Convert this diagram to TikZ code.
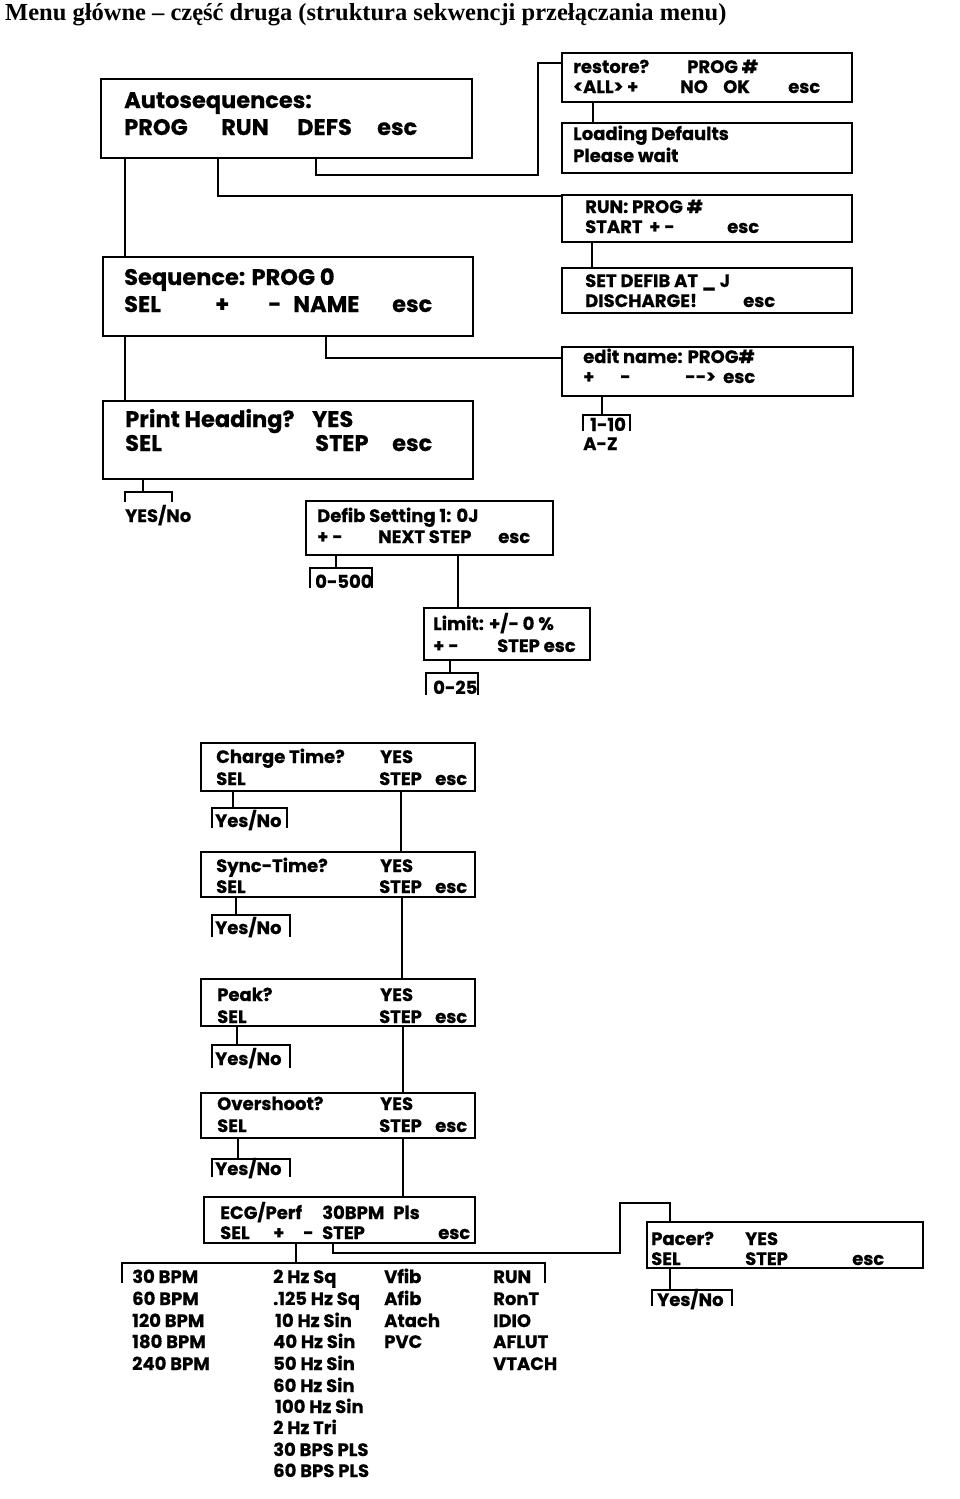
\documentclass[tikz,border=0pt]{standalone}
\usepackage{fontspec}
\setmainfont{Liberation Serif}
\newfontfamily\dfont{Poppins}[BoldFeatures={FakeBold=0.6}]
\tikzset{
 box/.style={draw, line width=2pt, inner sep=0pt, outer sep=0pt, anchor=north west},
 ln/.style={line width=1.8pt},
 big/.style={font=\dfont\bfseries\fontsize{22.5}{22.5}\selectfont, anchor=base west, inner sep=0pt},
 sm/.style={font=\dfont\bfseries\fontsize{18}{18}\selectfont, anchor=base west, inner sep=0pt},
}
\newcounter{tn}
\newcommand\W[2]{\makebox[#1pt][l]{#2}}
\newcommand\R[3][sm]{\stepcounter{tn}\node[#1] (t\thetn) at (#2) {#3};}
\newcommand\Bx[5]{\node[box, minimum width=#4pt, minimum height=#5pt] (#1) at (#2,#3) {};}
\newcommand\Br[6]{\coordinate (#1) at (#6,#4); \draw[ln] (#2,#5) |- (#3,#4) -- (#3,#5);}
\begin{document}
\begin{tikzpicture}[x=1pt,y=-1pt]
\useasboundingbox (0,0) rectangle (960,1499);
\node[font=\bfseries\fontsize{24.5}{24.5}\selectfont, anchor=base west, inner sep=0pt] (title) at (5,20) {Menu główne – część druga (struktura sekwencji przełączania menu)};

% boxes
\Bx{auto}{101}{79}{371}{79}
\Bx{restore}{562}{53}{290}{49}
\Bx{load}{562}{123}{290}{50}
\Bx{run}{562}{195}{290}{47}
\Bx{defat}{562}{268}{290}{45}
\Bx{seq}{103}{257}{370}{79}
\Bx{edit}{562}{347}{291}{49}
\Bx{print}{103}{401}{370}{78}
\Bx{defib}{306}{501}{247}{54}
\Bx{limit}{424}{608}{166}{52}
\Bx{charge}{201}{743}{274}{48}
\Bx{sync}{201}{852}{274}{45}
\Bx{peak}{201}{979}{274}{47}
\Bx{over}{201}{1093}{274}{45}
\Bx{ecg}{204}{1197}{271}{46}
\Bx{pacer}{647}{1222}{276}{46}

% texts
\R[big]{124,108}{Autosequences:}
\R[big]{124,135}{\W{97}{PROG}\W{76}{RUN}\W{80}{DEFS}esc}
\R{573,73}{\W{114}{restore?}PROG \#}
\R{573,93}{\W{107}{<ALL> +}\W{43}{NO}\W{65}{OK}esc}
\R{573,140}{Loading Defaults}
\R{573,162}{Please wait}
\R{585,213}{RUN: PROG \#}
\R{585,233}{\W{64}{START}\W{78}{+ -}esc}
\R{585,287}{SET DEFIB AT \_ J}
\R{585,307}{\W{158}{DISCHARGE!}esc}
\R[big]{124,285}{Sequence: PROG 0}
\R[big]{124,312}{\W{91}{SEL}\W{53}{+}\W{25}{-}\W{99}{NAME}esc}
\R{583,363}{edit name: PROG\#}
\R{583,383}{\W{37}{+}\W{65}{-}\W{38}{-{}-{}>}esc}
\R{590,431}{1-10}
\R{583,450}{A-Z}
\R[big]{125,427}{\W{187}{Print Heading?}YES}
\R[big]{125,451}{\W{190}{SEL}\W{77}{STEP}esc}
\R{125,522}{YES/No}
\R{317,522}{Defib Setting 1: 0J}
\R{317,543}{\W{61}{+ -}\W{120}{NEXT STEP}esc}
\R{315,588}{0-500}
\R{433,630}{Limit: +/- 0 \%}
\R{433,652}{\W{64}{+ -}STEP esc}
\R{433,694}{0-25}
\R{216,763}{\W{164}{Charge Time?}YES}
\R{216,785}{\W{163}{SEL}\W{56}{STEP}esc}
\R{215,827}{Yes/No}
\R{216,872}{\W{164}{Sync-Time?}YES}
\R{216,893}{\W{163}{SEL}\W{56}{STEP}esc}
\R{215,934}{Yes/No}
\R{217,1001}{\W{163}{Peak?}YES}
\R{217,1023}{\W{162}{SEL}\W{56}{STEP}esc}
\R{215,1065}{Yes/No}
\R{217,1110}{\W{163}{Overshoot?}YES}
\R{217,1132}{\W{162}{SEL}\W{56}{STEP}esc}
\R{215,1175}{Yes/No}
\R{220,1219}{\W{102}{ECG/Perf}\W{71}{30BPM}Pls}
\R{220,1239}{\W{53}{SEL}\W{30}{+}\W{19}{-}\W{116}{STEP}esc}
\R{651,1245}{\W{94}{Pacer?}YES}
\R{651,1265}{\W{94}{SEL}\W{107}{STEP}esc}
\R{657,1306}{Yes/No}
% lists
\R{132,1283}{30 BPM}
\R{132,1305}{60 BPM}
\R{132,1327}{120 BPM}
\R{132,1348}{180 BPM}
\R{132,1370}{240 BPM}
\R{273,1283}{2 Hz Sq}
\R{273,1305}{.125 Hz Sq}
\R{275,1327}{10 Hz Sin}
\R{273,1348}{40 Hz Sin}
\R{273,1370}{50 Hz Sin}
\R{273,1392}{60 Hz Sin}
\R{275,1413}{100 Hz Sin}
\R{273,1434}{2 Hz Tri}
\R{273,1456}{30 BPS PLS}
\R{273,1477}{60 BPS PLS}
\R{384,1283}{Vfib}
\R{384,1305}{Afib}
\R{384,1327}{Atach}
\R{384,1348}{PVC}
\R{493,1283}{RUN}
\R{493,1305}{RonT}
\R{493,1327}{IDIO}
\R{493,1348}{AFLUT}
\R{493,1370}{VTACH}

% brackets
\Br{bedit}{583}{630}{415}{431}{602}
\Br{bprint}{125}{172}{492}{502}{143}
\Br{bdefib}{310}{372}{568}{588}{336}
\Br{blimit}{426}{478}{673}{695}{450}
\Br{bcharge}{212}{287}{808}{828}{233}
\Br{bsync}{212}{290}{915}{937}{236}
\Br{bpeak}{212}{290}{1045}{1068}{237}
\Br{bover}{212}{290}{1159}{1177}{238}
\Br{becg}{122}{545}{1263}{1283}{296}
\Br{bpacer}{652}{732}{1290}{1306}{670}

% connectors
\coordinate (b1) at (538,175);
\coordinate (p1) at (620,1253);
\coordinate (p2) at (670,1203);
\draw[ln] (auto.south -| 125,0) -- (seq.north -| 125,0);
\draw[ln] (auto.south -| 218,0) |- ([yshift=-1pt]run.north west);
\draw[ln] (auto.south -| 316,0) |- (b1) |- (restore.west |- 0,63);
\draw[ln] (restore.south -| 593,0) -- (load.north -| 593,0);
\draw[ln] (run.south -| 592,0) -- (defat.north -| 592,0);
\draw[ln] (seq.south -| 125,0) -- (print.north -| 125,0);
\draw[ln] (seq.south -| 326,0) |- (edit.west |- 0,358);
\draw[ln] (edit.south -| bedit) -- (bedit);
\draw[ln] (print.south -| bprint) -- (bprint);
\draw[ln] (defib.south -| bdefib) -- (bdefib);
\draw[ln] (defib.south -| 458,0) -- (limit.north -| 458,0);
\draw[ln] (limit.south -| blimit) -- (blimit);
\draw[ln] (charge.south -| bcharge) -- (bcharge);
\draw[ln] (sync.south -| bsync) -- (bsync);
\draw[ln] (peak.south -| bpeak) -- (bpeak);
\draw[ln] (over.south -| bover) -- (bover);
\draw[ln] (charge.south -| 401,0) -- (sync.north -| 401,0);
\draw[ln] (sync.south -| 402,0) -- (peak.north -| 402,0);
\draw[ln] (peak.south -| 403,0) -- (over.north -| 403,0);
\draw[ln] (over.south -| 403,0) -- (ecg.north -| 403,0);
\draw[ln] (ecg.south -| becg) -- (becg);
\draw[ln] (ecg.south -| 333,0) |- (p1) |- (p2) -- (pacer.north -| p2);
\draw[ln] (pacer.south -| bpacer) -- (bpacer);
\end{tikzpicture}
\end{document}
